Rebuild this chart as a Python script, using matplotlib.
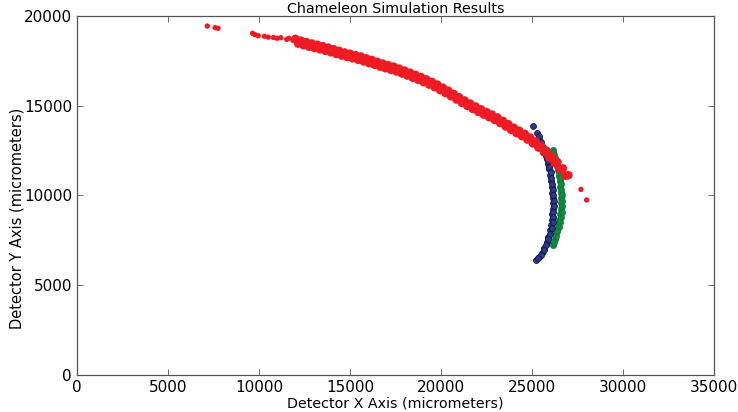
import matplotlib
matplotlib.use('Agg')
import matplotlib.pyplot as plt

# red track: sparse points at the top left
red_sparse_x = [7160, 7590, 7750, 9650, 9780, 9960, 10300, 10510, 10800, 11000,
                11200, 11520, 11650, 11870, 27690, 28000]
red_sparse_y = [19440, 19350, 19315, 19035, 18960, 18900, 18870, 18820, 18800, 18760,
                18790, 18700, 18760, 18640, 10340, 9750]

# red track: upper row of the dense band
red_a_x = [12000, 12300, 12600, 12900, 13200, 13500, 13800, 14100, 14400, 14700,
           15000, 15300, 15600, 15900, 16200, 16500, 16800, 17100, 17400, 17700,
           18000, 18300, 18600, 18900, 19200, 19500, 19800, 20100, 20400, 20700,
           21000, 21300, 21600, 21900, 22200, 22500, 22800, 23100, 23400, 23700,
           24000, 24300, 24600, 24900, 25200, 25500, 25800, 26100, 26400, 26700,
           27000]
red_a_y = [18730, 18630, 18550, 18470, 18400, 18320, 18240, 18150, 18060, 17970,
           17900, 17820, 17740, 17640, 17550, 17450, 17350, 17260, 17180, 17070,
           16960, 16840, 16720, 16600, 16470, 16330, 16180, 16010, 15840, 15660,
           15470, 15290, 15120, 14960, 14800, 14650, 14510, 14350, 14160, 13970,
           13780, 13610, 13440, 13230, 13010, 12770, 12490, 12170, 11860, 11510,
           11130]

# red track: lower row of the dense band
red_b_x = [12150, 12450, 12750, 13050, 13350, 13650, 13950, 14250, 14550, 14850,
           15150, 15450, 15750, 16050, 16350, 16650, 16950, 17250, 17550, 17850,
           18150, 18450, 18750, 19050, 19350, 19650, 19950, 20250, 20550, 20850,
           21150, 21450, 21750, 22050, 22350, 22650, 22950, 23250, 23550, 23850,
           24150, 24450, 24750, 25050, 25350, 25650, 25950, 26250, 26550, 26850]
red_b_y = [18460, 18370, 18290, 18215, 18140, 18060, 17975, 17885, 17795, 17715,
           17640, 17560, 17470, 17375, 17280, 17180, 17085, 17000, 16905, 16795,
           16680, 16560, 16440, 16315, 16180, 16035, 15875, 15705, 15530, 15345,
           15160, 14985, 14820, 14660, 14505, 14360, 14210, 14035, 13845, 13655,
           13475, 13305, 13115, 12900, 12670, 12410, 12110, 11795, 11465, 11100]

# blue track
blue_x = [25040, 25290, 25400, 25500, 25610, 25710, 25800, 25880, 25950, 26000,
          26040, 26080, 26110, 26130, 26140, 26130, 26120, 26100, 26060, 26000,
          25900, 25800, 25680, 25530, 25400, 25220,
          25370, 25480, 25590, 25690, 25790, 25880, 25960, 26020, 26070, 26110,
          26150, 26170, 26190, 26190, 26180, 26160, 26130, 26080, 26000, 25900,
          25790, 25650, 25510, 25340]
blue_y = [13870, 13460, 13150, 12850, 12600, 12350, 12050, 11750, 11450, 11150,
          10800, 10490, 10150, 9850, 9560, 9250, 8950, 8640, 8350, 8050,
          7710, 7400, 7100, 6780, 6600, 6410,
          13300, 13000, 12720, 12470, 12200, 11900, 11600, 11300, 10980, 10650,
          10320, 10000, 9700, 9400, 9100, 8800, 8500, 8200, 7880, 7550,
          7250, 6950, 6700, 6500]

# green track
green_x = [26140, 26220, 26300, 26380, 26450, 26500, 26530, 26550, 26570, 26580,
           26580, 26570, 26550, 26500, 26450, 26380, 26320, 26250, 26140,
           26180, 26270, 26350, 26430, 26500, 26560, 26600, 26620, 26640, 26650,
           26640, 26630, 26600, 26550, 26480, 26400, 26320, 26200]
green_y = [12530, 12250, 11950, 11650, 11420, 11100, 10800, 10490, 10150, 9850,
           9560, 9250, 8950, 8640, 8350, 8100, 7890, 7600, 7240,
           12400, 12100, 11800, 11550, 11260, 10950, 10650, 10320, 10000, 9700,
           9400, 9100, 8800, 8500, 8220, 8000, 7750, 7420]

plt.rcParams['font.family'] = 'DejaVu Sans'

fig = plt.figure(figsize=(7.38, 4.12), dpi=100)
ax = fig.add_axes([0.1043, 0.0898, 0.8632, 0.8714])

ax.scatter(green_x, green_y, s=22, c='#0e8a3e', edgecolors='#0a6a2e', linewidths=0.3, zorder=2)
ax.scatter(blue_x, blue_y, s=18, c='#2b3a8c', edgecolors='#101840', linewidths=0.6, zorder=3)
ax.scatter(red_sparse_x, red_sparse_y, s=15, c='#ed1c24', edgecolors='none', zorder=4)
ax.scatter(red_a_x, red_a_y, s=38, c='#ed1c24', edgecolors='none', zorder=4)
ax.scatter(red_b_x, red_b_y, s=38, c='#ed1c24', edgecolors='none', zorder=4)

ax.set_xlim(0, 35000)
ax.set_ylim(0, 20000)
ax.set_xticks(range(0, 35001, 5000))
ax.set_yticks(range(0, 20001, 5000))
ax.tick_params(direction='in', top=True, right=True, length=4, width=0.6,
               color='#555555', labelsize=11)
for sp in ax.spines.values():
    sp.set_color('#555555')
    sp.set_linewidth(0.9)

ax.set_title('Chameleon Simulation Results', fontsize=10.3, pad=2)
ax.set_xlabel('Detector X Axis (micrometers)', fontsize=10.3, labelpad=1)
ax.set_ylabel('Detector Y Axis (micrometers)', fontsize=10.5)
ax.yaxis.set_label_coords(-0.083, 0.435)

fig.savefig('out.png', dpi=100, facecolor='white')
